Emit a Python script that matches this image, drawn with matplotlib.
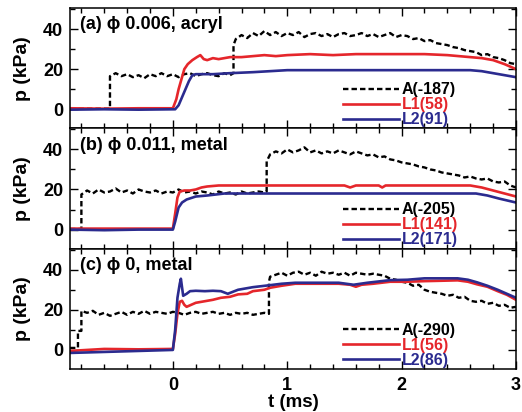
import matplotlib
matplotlib.use("Agg")
import matplotlib.pyplot as plt
from matplotlib.ticker import MultipleLocator

plt.rcParams["font.family"] = ["Liberation Sans", "DejaVu Sans"]
plt.rcParams["font.weight"] = "bold"

# ---- data ----
panel_titles = ["(a) \u03d5 0.006, acryl", "(b) \u03d5 0.011, metal", "(c) \u03d5 0, metal"]
labels_a = ["A(-187)", "L1(58)", "L2(91)"]
labels_b = ["A(-205)", "L1(141)", "L2(171)"]
labels_c = ["A(-290)", "L1(56)", "L2(86)"]

# panel (a)
t_a_A = [-0.90, -0.55, -0.55, -0.50, -0.45, -0.40, -0.35, -0.30, -0.25, -0.20, -0.15, -0.10,
         -0.05, 0.00, 0.05, 0.10, 0.15, 0.20, 0.25, 0.30, 0.35, 0.40, 0.45, 0.50, 0.53,
         0.53, 0.55, 0.60, 0.65, 0.70, 0.75, 0.80, 0.85, 0.90, 0.95, 1.00, 1.05, 1.10, 1.15,
         1.20, 1.25, 1.30, 1.35, 1.40, 1.45, 1.50, 1.55, 1.60, 1.65, 1.70, 1.75, 1.80, 1.85,
         1.90, 1.95, 2.00, 2.05, 2.10, 2.15, 2.20, 2.25, 2.30, 2.35, 2.40, 2.45, 2.50, 2.55,
         2.60, 2.65, 2.70, 2.75, 2.80, 2.85, 2.90, 2.95, 3.00]
p_a_A = [0.3, 0.3, 16.5, 18.0, 16.5, 17.5, 16.0, 17.0, 15.5, 17.5, 16.5, 18.0,
         16.5, 17.5, 16.0, 17.5, 18.0, 16.5, 17.5, 18.0, 17.0, 16.5, 18.0, 17.0, 18.0,
         32.0, 35.0, 37.0, 35.5, 38.0, 36.5, 39.0, 37.0, 38.5, 36.5, 38.0, 37.0, 38.5, 36.0,
         37.5, 38.0, 36.5, 37.5, 36.0, 37.5, 38.0, 36.5, 37.0, 38.0, 36.5, 37.5, 36.0, 37.0,
         38.0, 36.0, 37.0, 36.5, 35.0, 35.5, 34.0, 34.5, 33.0, 32.5, 32.0, 31.0, 30.5, 29.5,
         29.0, 28.5, 27.0, 27.5, 26.0, 25.5, 24.5, 23.0, 22.5]
t_a_L1 = [-0.90, -0.60, -0.30, 0.00, 0.03, 0.05, 0.08, 0.10, 0.13, 0.17, 0.21, 0.24, 0.27,
          0.30, 0.35, 0.40, 0.45, 0.50, 0.60, 0.70, 0.80, 0.90, 1.00, 1.20, 1.40, 1.60, 1.80,
          2.00, 2.20, 2.40, 2.50, 2.60, 2.70, 2.80, 2.90, 3.00]
p_a_L1 = [0.5, 0.3, 0.5, 0.5, 5.0, 10.0, 16.0, 20.0, 22.5, 24.5, 26.0, 27.0, 25.0,
          24.5, 25.5, 25.0, 25.5, 26.0, 26.0, 26.5, 27.0, 26.5, 27.0, 27.5, 27.0, 27.5, 27.5,
          27.5, 27.5, 27.0, 26.5, 26.0, 25.5, 24.5, 22.5, 20.0]
t_a_L2 = [-0.90, -0.60, -0.30, 0.02, 0.05, 0.08, 0.11, 0.14, 0.17, 0.20, 0.25, 0.35, 0.50,
          0.70, 1.00, 1.30, 1.60, 2.00, 2.30, 2.60, 2.70, 2.80, 2.90, 3.00]
p_a_L2 = [-0.2, 0.0, -0.2, 0.0, 2.0, 6.0, 10.0, 14.0, 17.0, 17.5, 17.5, 17.5, 18.0,
          18.5, 19.5, 19.5, 19.5, 19.5, 19.5, 19.5, 19.0, 18.0, 17.0, 16.0]

# panel (b)
t_b_A = [-0.90, -0.80, -0.80, -0.75, -0.70, -0.65, -0.60, -0.55, -0.50, -0.45, -0.40, -0.35,
         -0.30, -0.25, -0.20, -0.15, -0.10, -0.05, 0.00, 0.05, 0.10, 0.15, 0.20, 0.25, 0.30,
         0.35, 0.40, 0.45, 0.50, 0.55, 0.60, 0.65, 0.70, 0.75, 0.80, 0.82,
         0.82, 0.85, 0.90, 0.95, 1.00, 1.05, 1.10, 1.15, 1.20, 1.25, 1.30, 1.35, 1.40, 1.45,
         1.50, 1.55, 1.60, 1.65, 1.70, 1.75, 1.80, 1.85, 1.90, 1.95, 2.00, 2.05, 2.10, 2.15,
         2.20, 2.25, 2.30, 2.35, 2.40, 2.45, 2.50, 2.55, 2.60, 2.65, 2.70, 2.75, 2.80, 2.85,
         2.90, 2.95, 3.00]
p_b_A = [0.3, 0.3, 17.5, 19.5, 18.0, 20.0, 18.5, 19.0, 20.5, 18.5, 19.5, 18.0,
         20.0, 19.0, 18.5, 19.5, 18.0, 19.0, 18.5, 20.0, 18.5, 19.0, 18.0, 19.0, 18.5,
         17.5, 19.0, 18.0, 18.5, 17.5, 19.0, 18.0, 18.5, 19.0, 18.5, 19.0,
         34.0, 37.5, 39.0, 38.0, 40.0, 38.5, 39.5, 41.0, 38.5, 39.5, 38.0, 39.0, 38.0, 39.5,
         38.5, 37.5, 39.0, 38.0, 37.0, 37.5, 36.0, 36.5, 35.0, 34.5, 33.5, 33.0, 32.5, 31.5,
         31.0, 30.0, 29.5, 28.5, 28.0, 27.5, 27.0, 26.0, 26.5, 25.5, 25.0, 25.5, 24.0, 23.5,
         24.0, 22.0, 21.0]
t_b_L1 = [-0.90, -0.60, -0.30, 0.00, 0.02, 0.04, 0.06, 0.10, 0.15, 0.20, 0.25, 0.30, 0.40,
          0.50, 0.70, 1.00, 1.30, 1.50, 1.55, 1.60, 1.80, 1.83, 1.86, 2.00, 2.30, 2.60, 2.70,
          2.80, 2.90, 3.00]
p_b_L1 = [0.5, 0.5, 0.5, 0.5, 8.0, 16.0, 19.0, 19.5, 19.5, 20.0, 21.0, 21.5, 22.0,
          22.0, 22.0, 22.0, 22.0, 22.0, 21.0, 22.0, 22.0, 21.0, 22.0, 22.0, 22.0, 22.0, 21.0,
          19.5, 18.0, 16.5]
t_b_L2 = [-0.90, -0.60, -0.30, 0.00, 0.02, 0.05, 0.08, 0.12, 0.20, 0.30, 0.45, 0.70, 1.00,
          1.50, 2.00, 2.40, 2.65, 2.75, 2.85, 3.00]
p_b_L2 = [0.0, -0.3, 0.0, 0.0, 4.0, 11.0, 13.5, 15.0, 16.5, 17.0, 18.0, 18.0, 18.0,
          18.0, 18.0, 18.0, 18.0, 17.0, 15.5, 13.5]

# panel (c)
t_c_A = [-0.90, -0.83, -0.83, -0.80, -0.80, -0.75, -0.70, -0.65, -0.60, -0.55, -0.50, -0.45,
         -0.40, -0.35, -0.30, -0.25, -0.20, -0.15, -0.10, -0.05, 0.00, 0.05, 0.10, 0.15, 0.20,
         0.25, 0.30, 0.35, 0.40, 0.45, 0.50, 0.55, 0.60, 0.65, 0.70, 0.75, 0.80, 0.84,
         0.84, 0.85, 0.90, 0.95, 1.00, 1.05, 1.10, 1.15, 1.20, 1.25, 1.30, 1.35, 1.40, 1.45,
         1.50, 1.55, 1.60, 1.65, 1.70, 1.75, 1.80, 1.85, 1.90, 1.95, 2.00, 2.05, 2.10, 2.15,
         2.20, 2.25, 2.30, 2.35, 2.40, 2.45, 2.50, 2.55, 2.60, 2.65, 2.70, 2.75, 2.80, 2.85,
         2.90, 2.95, 3.00]
p_c_A = [1.0, 1.0, 9.5, 9.5, 19.5, 18.5, 19.5, 17.5, 18.5, 17.0, 18.0, 19.0,
         17.5, 19.0, 18.0, 19.5, 18.0, 19.0, 18.5, 18.0, 19.0, 18.5, 17.5, 18.5, 19.0,
         18.0, 18.5, 19.0, 18.0, 18.5, 17.5, 18.5, 18.0, 18.5, 17.5, 18.0, 18.5, 18.0,
         34.0, 36.5, 37.5, 38.5, 37.0, 38.5, 39.0, 37.5, 38.5, 37.0, 39.0, 38.0, 38.5, 37.5,
         38.5, 37.0, 38.5, 38.0, 37.5, 38.0, 37.5, 37.0, 35.5, 35.0, 34.0, 33.5, 32.0, 32.5,
         30.0, 29.0, 28.5, 28.0, 27.0, 27.5, 26.0, 26.5, 24.5, 24.0, 24.5, 23.0, 23.5, 22.0,
         22.5, 21.0, 21.5]
t_c_L1 = [-0.90, -0.60, -0.30, 0.00, 0.02, 0.04, 0.06, 0.08, 0.10, 0.12, 0.16, 0.20, 0.28,
          0.35, 0.42, 0.50, 0.57, 0.65, 0.70, 0.80, 0.85, 0.95, 1.07, 1.20, 1.32, 1.45, 1.55,
          1.60, 1.65, 1.75, 1.90, 2.05, 2.20, 2.35, 2.49, 2.58, 2.66, 2.75, 2.84, 2.92, 3.00]
p_c_L1 = [-0.5, 0.5, 0.3, 0.5, 8.0, 18.0, 24.0, 24.5, 22.5, 21.5, 22.5, 23.5, 24.3,
          25.0, 26.0, 26.5, 27.7, 28.0, 29.3, 30.0, 31.0, 32.0, 33.0, 33.0, 33.0, 33.0, 32.5,
          31.5, 32.5, 33.0, 34.0, 34.0, 34.3, 34.5, 34.7, 34.0, 32.7, 31.5, 29.3, 27.5, 25.0]
t_c_L2 = [-0.90, -0.60, -0.30, 0.00, 0.02, 0.04, 0.06, 0.07, 0.09, 0.12, 0.15, 0.20, 0.28,
          0.35, 0.42, 0.48, 0.57, 0.70, 0.85, 0.95, 1.07, 1.20, 1.32, 1.45, 1.58, 1.70, 1.90,
          2.05, 2.20, 2.35, 2.49, 2.58, 2.66, 2.75, 2.84, 2.92, 3.00]
p_c_L2 = [-1.5, -1.0, -0.5, 0.0, 10.0, 26.0, 33.0, 35.5, 27.0, 28.0, 29.3, 29.5, 29.3,
          29.5, 29.3, 28.0, 30.0, 31.3, 32.3, 33.0, 33.5, 33.5, 33.5, 33.5, 32.5, 33.5, 34.8,
          35.0, 35.7, 35.7, 35.7, 35.0, 33.7, 32.0, 30.0, 28.0, 26.0]

panels = [
    (t_a_A, p_a_A, t_a_L1, p_a_L1, t_a_L2, p_a_L2, labels_a),
    (t_b_A, p_b_A, t_b_L1, p_b_L1, t_b_L2, p_b_L2, labels_b),
    (t_c_A, p_c_A, t_c_L1, p_c_L1, t_c_L2, p_c_L2, labels_c),
]

RED = "#e5262b"
BLUE = "#2b2b8f"

fig, axes = plt.subplots(3, 1, figsize=(5.22, 4.12), dpi=100, sharex=True)
fig.subplots_adjust(left=0.134, right=0.9885, top=0.9806, bottom=0.1044, hspace=0)

for ax, title, (tA, pA, t1, p1, t2, p2, labs) in zip(axes, panel_titles, panels):
    ax.plot(tA, pA, color="black", lw=1.7, dashes=(2.3, 1.3), label=labs[0])
    ax.plot(t1, p1, color=RED, lw=1.9, label=labs[1])
    ax.plot(t2, p2, color=BLUE, lw=1.9, label=labs[2])

    ax.set_xlim(-0.9, 3.0)
    ax.set_ylim(-9.5, 50.5)
    ax.yaxis.set_major_locator(MultipleLocator(20))
    ax.yaxis.set_minor_locator(MultipleLocator(10))
    ax.xaxis.set_major_locator(MultipleLocator(1))
    ax.xaxis.set_minor_locator(MultipleLocator(0.2))
    ax.tick_params(which="both", direction="in", top=True, right=True, width=1)
    ax.tick_params(which="major", length=5.5)
    ax.tick_params(which="minor", length=3.5)
    ax.tick_params(axis="y", labelsize=13, pad=5)
    ax.tick_params(axis="x", labelsize=13, pad=6)
    for sp in ax.spines.values():
        sp.set_linewidth(1.1)

    ax.set_ylabel("p (kPa)", fontsize=14, fontweight="bold")
    ax.yaxis.set_label_coords(-0.088, 0.5)

    ax.text(0.022, 0.86, title, transform=ax.transAxes, fontsize=13,
            fontweight="bold", va="center", ha="left")

    ax.legend(loc="lower left", bbox_to_anchor=(0.612, 0.01), frameon=False,
              handlelength=3.5, handletextpad=0.2, labelspacing=0.0,
              borderpad=0, borderaxespad=0, labelcolor="linecolor",
              prop={"weight": "bold", "size": 11.5})

axes[-1].set_xlabel("t (ms)", fontsize=13.5, fontweight="bold", labelpad=0)

plt.savefig("out.png", dpi=100)
